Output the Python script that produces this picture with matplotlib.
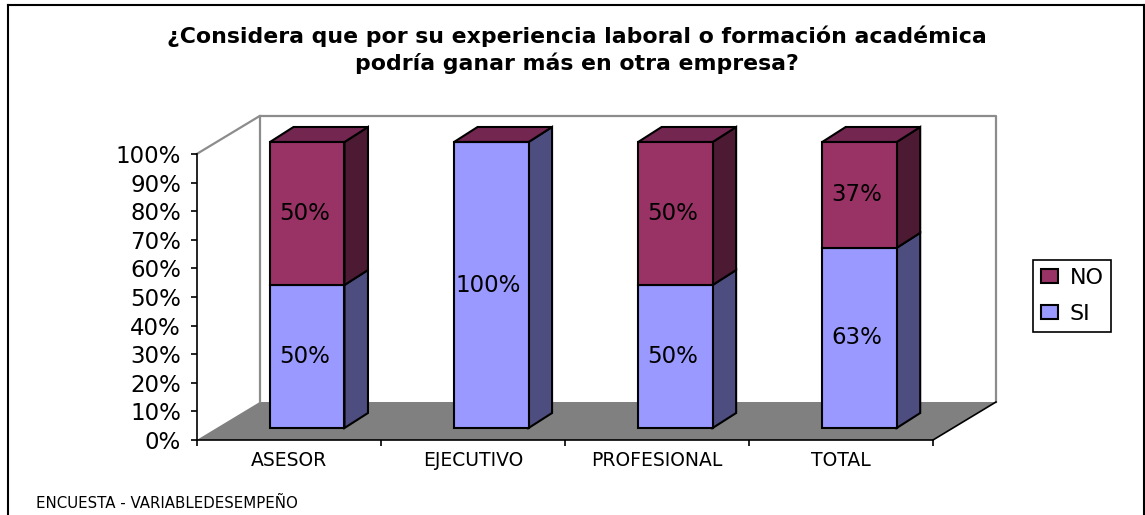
import numpy as np
import matplotlib
matplotlib.use("Agg")
import matplotlib.pyplot as plt
from matplotlib.lines import Line2D
from matplotlib.patches import Polygon

# the original text is stretched sideways, DejaVu is the closest wide face
plt.rcParams['font.family'] = ['DejaVu Sans']

categorias = ["ASESOR", "EJECUTIVO", "PROFESIONAL", "TOTAL"]
si = [50, 100, 50, 63]
no = [50, 0, 50, 37]
etiq_si = ["50%", "100%", "50%", "63%"]
etiq_no = ["50%", "", "50%", "37%"]

W, H = 1145, 515

fig = plt.figure(figsize=(W / 100, H / 100), dpi=100)
fig.patch.set_facecolor("white")

# axes holds the front plane of the 3d box, everything else is offset from it
ax = fig.add_axes([196.7 / W, (H - 440) / H, 736.3 / W, 286 / H])
ax.set_xlim(0, 4)
ax.set_ylim(0, 100)
ax.patch.set_visible(False)
px = 4 / 736.3
py = 100 / 286

# depth of the box and of the bars, in data units
caja_dx, caja_dy = 63 * px, 38 * py
barra_dx, barra_dy = 23.5 * px, 15 * py
off_x, off_y = 18.5 * px, 12 * py
ancho = 74.5 * px

# floor and walls
ax.add_patch(Polygon([(0, 0), (4, 0), (4 + caja_dx, caja_dy), (caja_dx, caja_dy)],
                     facecolor="#808080", edgecolor="none", clip_on=False, zorder=1))
gris = "#8c8c8c"
ax.plot([0, caja_dx, 4 + caja_dx, 4 + caja_dx], [100, 100 + caja_dy, 100 + caja_dy, caja_dy],
        color=gris, lw=1.6, clip_on=False, zorder=1)
ax.plot([caja_dx, caja_dx], [caja_dy, 100 + caja_dy], color=gris, lw=1.6, clip_on=False, zorder=1)
ax.plot([4, 4 + caja_dx], [0, caja_dy], color="black", lw=1.2, clip_on=False, zorder=2)


def caras(x, base, alto, lado, arriba):
    x0 = x - ancho / 2
    x1 = x + ancho / 2
    y0 = base + off_y
    y1 = base + alto + off_y
    if alto > 0:
        ax.add_patch(Polygon([(x1, y0), (x1 + barra_dx, y0 + barra_dy),
                              (x1 + barra_dx, y1 + barra_dy), (x1, y1)],
                             facecolor=lado, edgecolor="black", lw=1.5, clip_on=False, zorder=3))
    if arriba:
        ax.add_patch(Polygon([(x0, y1), (x1, y1), (x1 + barra_dx, y1 + barra_dy),
                              (x0 + barra_dx, y1 + barra_dy)],
                             facecolor=arriba, edgecolor="black", lw=1.5, clip_on=False, zorder=3))


xs = np.arange(len(categorias)) + 0.5 + off_x
si_arr = np.array(si)
no_arr = np.array(no)

for i, x in enumerate(xs):
    caras(x, 0, si_arr[i], "#4d4d80", None)
    caras(x, si_arr[i], no_arr[i], "#4d1a33", "#732650")

b_si = ax.bar(xs, si_arr, ancho, bottom=off_y, color="#9999ff", edgecolor="black",
              linewidth=1.5, clip_on=False, zorder=4, label="SI")
b_no = ax.bar(xs, no_arr, ancho, bottom=si_arr + off_y, color="#993366", edgecolor="black",
              linewidth=1.5, clip_on=False, zorder=4, label="NO")

for i, x in enumerate(xs):
    ax.text(x - 3 * px, si_arr[i] / 2 + off_y, etiq_si[i], ha="center", va="center",
            fontsize=16.5, color="black", zorder=5)
    if etiq_no[i]:
        ax.text(x - 3 * px, si_arr[i] + no_arr[i] / 2 + off_y, etiq_no[i], ha="center",
                va="center", fontsize=16.5, color="black", zorder=5)

# axis
ax.spines["top"].set_visible(False)
ax.spines["right"].set_visible(False)
ax.spines["left"].set_linewidth(1.2)
ax.spines["bottom"].set_linewidth(1.2)
ax.spines["left"].set_zorder(2)
ax.spines["bottom"].set_zorder(2)
ax.set_yticks(np.arange(0, 101, 10))
ax.set_yticklabels([f"{v}%" for v in range(0, 101, 10)], fontsize=16.5)
ax.tick_params(axis="y", length=4.3, width=1.2, pad=7)
ax.set_xticks(np.arange(0, 5))
ax.set_xticklabels([])
ax.tick_params(axis="x", which="major", length=4, width=1.2)
ax.set_xticks(np.arange(len(categorias)) + 0.5, minor=True)
ax.set_xticklabels(categorias, minor=True, fontsize=13.5)
ax.tick_params(axis="x", which="minor", length=0, pad=8)

# title and footer
fig.text(577 / W, 1 - 36 / H, "¿Considera que por su experiencia laboral o formación académica",
         ha="center", va="center", fontsize=15.8, fontweight="bold")
fig.text(577 / W, 1 - 63 / H, "podría ganar más en otra empresa?",
         ha="center", va="center", fontsize=15.8, fontweight="bold")
fig.text(36 / W, 1 - 503 / H, "ENCUESTA - VARIABLEDESEMPEÑO", ha="left", va="center", fontsize=10.8)

# outer frame, bottom edge is cut off in the original
for xx, yy in [([7.5, 7.5], [515, 4.5]), ([7.5, 1144], [4.5, 4.5]), ([1144, 1144], [4.5, 515])]:
    fig.add_artist(Line2D(np.array(xx) / W, 1 - np.array(yy) / H, color="black", lw=1.5))

# legend
leg = ax.legend(handles=[b_no, b_si], labels=["NO", "SI"],
                loc="center", bbox_to_anchor=(1072 / W, 1 - 296 / H), bbox_transform=fig.transFigure,
                fontsize=16, frameon=True, fancybox=False, framealpha=1, edgecolor="black",
                handlelength=0.8, handleheight=0.6, handletextpad=0.5,
                labelspacing=0.7, borderpad=0.36, borderaxespad=0)
leg.get_frame().set_linewidth(1.2)

fig.savefig("out.png", dpi=100)
